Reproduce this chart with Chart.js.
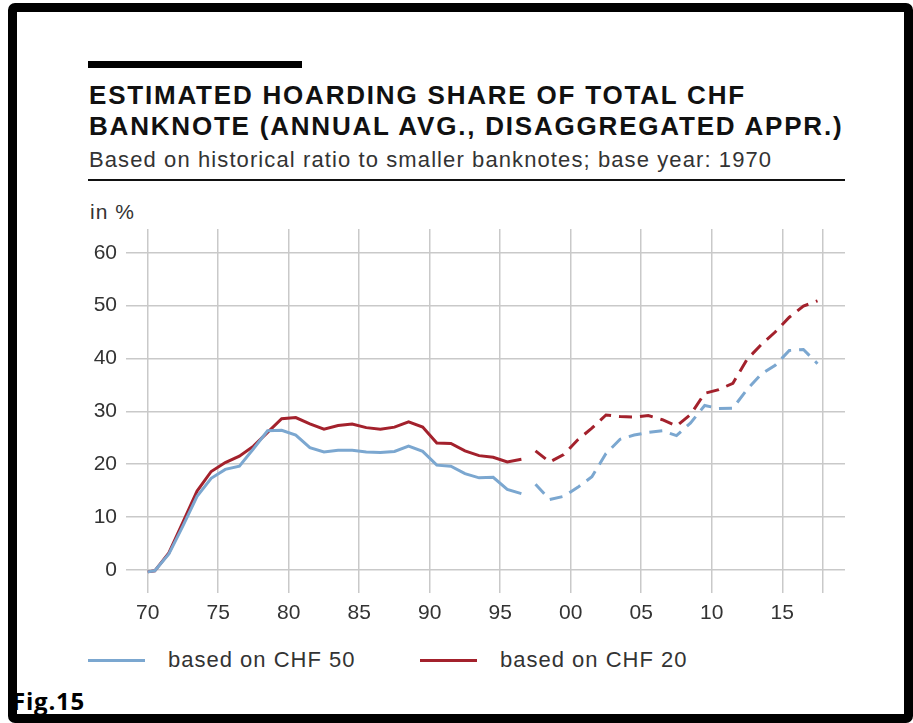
<!DOCTYPE html>
<html>
<head>
<meta charset="utf-8">
<script src="https://cdn.jsdelivr.net/npm/chart.js@4"></script>
<style>
  body { margin: 0; background: #fff; width: 913px; height: 723px; overflow: hidden; position: relative; }
  .frame { position: absolute; left: 8px; top: 3px; width: 887px; height: 702px; border: 9px solid #000; border-radius: 7px; }
  .bar { position: absolute; left: 88px; top: 61px; width: 214px; height: 7px; background: #000; }
  .title { position: absolute; left: 89px; top: 80px; font: bold 26px "Liberation Sans", Arial, sans-serif; letter-spacing: 1.8px; line-height: 31px; color: #111; white-space: nowrap; }
  .sub { position: absolute; left: 89px; top: 149px; font: 22px "Liberation Sans", Arial, sans-serif; letter-spacing: 1.1px; line-height: 21px; color: #333; white-space: nowrap; }
  .rule { position: absolute; left: 88px; top: 179px; width: 757px; height: 2px; background: #111; }
  .unit { position: absolute; left: 90px; top: 202px; font: 21px "Liberation Sans", Arial, sans-serif; letter-spacing: 1px; line-height: 20px; color: #333; }
  .lg { position: absolute; top: 649px; font: 22px "Liberation Sans", Arial, sans-serif; letter-spacing: 1px; line-height: 21px; color: #333; white-space: nowrap; }
  .sw { position: absolute; top: 659px; width: 57px; height: 3px; }
  .fig { position: absolute; left: 12px; top: 689px; font: bold 24px "Open Sans", sans-serif; letter-spacing: 0.8px; line-height: 23px; color: #000; }
  canvas { position: absolute; left: 0; top: 200px; }
</style>
</head>
<body>
<div class="frame"></div>
<div class="bar"></div>
<div class="title">ESTIMATED HOARDING SHARE OF TOTAL CHF<br>BANKNOTE (ANNUAL AVG., DISAGGREGATED APPR.)</div>
<div class="sub">Based on historical ratio to smaller banknotes; base year: 1970</div>
<div class="rule"></div>
<div class="unit">in %</div>
<canvas id="hoard" width="913" height="440"></canvas>
<div class="sw" style="left:88px;background:#7ba7d0"></div>
<div class="lg" style="left:168px">based on CHF 50</div>
<div class="sw" style="left:420px;background:#a3212c"></div>
<div class="lg" style="left:500px">based on CHF 20</div>
<div class="fig">Fig.15</div>
<script>
// stima quota tesaurizzata, punti a metà anno
var years = [1970, 1970.5, 1971.5, 1972.5, 1973.5, 1974.5, 1975.5, 1976.5, 1977.5, 1978.5,
    1979.5, 1980.5, 1981.5, 1982.5, 1983.5, 1984.5, 1985.5, 1986.5, 1987.5, 1988.5,
    1989.5, 1990.5, 1991.5, 1992.5, 1993.5, 1994.5, 1995.5, 1996.5, 1997.5, 1998.5,
    1999.5, 2000.5, 2001.5, 2002.5, 2003.5, 2004.5, 2005.5, 2006.5, 2007.5, 2008.5,
    2009.5, 2010.5, 2011.5, 2012.5, 2013.5, 2014.5, 2015.5, 2016.5, 2017.5];

var chf50 = [-0.4, -0.2, 3.0, 8.3, 13.9, 17.3, 19.0, 19.6, 22.9, 26.3,
    26.4, 25.5, 23.1, 22.3, 22.6, 22.6, 22.3, 22.2, 22.4, 23.4,
    22.4, 19.8, 19.6, 18.2, 17.4, 17.5, 15.2, 14.4, 16.2, 13.3,
    13.9, 15.6, 17.6, 22.0, 24.7, 25.5, 26.0, 26.3, 25.4, 27.8,
    31.1, 30.5, 30.6, 34.1, 37.0, 38.7, 41.5, 41.7, 39.0];

var chf20 = [-0.4, -0.2, 3.2, 9.0, 14.9, 18.6, 20.3, 21.5, 23.4, 26.0,
    28.6, 28.8, 27.6, 26.6, 27.3, 27.6, 26.9, 26.6, 27.0, 28.0,
    27.0, 24.0, 23.9, 22.5, 21.6, 21.3, 20.4, 20.9, 22.5, 20.4,
    21.8, 24.6, 26.8, 29.3, 29.0, 28.9, 29.2, 28.4, 27.2, 29.4,
    33.4, 34.1, 35.3, 39.8, 42.6, 45.0, 47.8, 49.9, 50.9];

var xTicks = [1970, 1975, 1980, 1985, 1990, 1995, 2000, 2005, 2010, 2015, 2017.9];
var xLabels = ['70', '75', '80', '85', '90', '95', '00', '05', '10', '15', ''];
var yTicks = [0, 10, 20, 30, 40, 50, 60];

var gapFrom = 1996.5;   // nessuna linea tra 1996 e 1997
var dashFrom = 1997.5;  // da qui tratteggiato

function pts(vals) {
    return years.map(function (y, i) { return { x: y, y: vals[i] }; });
}

function seg(color) {
    return {
        borderColor: function (ctx) {
            return ctx.p0.parsed.x === gapFrom ? 'rgba(0,0,0,0)' : color;
        },
        borderDash: function (ctx) {
            return ctx.p0.parsed.x >= dashFrom ? [13, 8] : [];
        }
    };
}

new Chart(document.getElementById('hoard'), {
    type: 'line',
    data: {
        datasets: [{
            label: 'based on CHF 50',
            data: pts(chf50),
            borderColor: '#7ba7d0',
            borderWidth: 3,
            pointRadius: 0,
            tension: 0,
            segment: seg('#7ba7d0')
        }, {
            label: 'based on CHF 20',
            data: pts(chf20),
            borderColor: '#a3212c',
            borderWidth: 3,
            pointRadius: 0,
            tension: 0,
            segment: seg('#a3212c')
        }]
    },
    options: {
        responsive: false,
        animation: false,
        layout: { padding: { left: 0, right: 68, top: 29, bottom: 0 } },
        plugins: {
            legend: { display: false },
            tooltip: { enabled: false }
        },
        scales: {
            x: {
                type: 'linear',
                min: 1968.46,
                max: 2019.45,
                afterBuildTicks: function (s) {
                    s.ticks = xTicks.map(function (v) { return { value: v }; });
                },
                afterFit: function (s) { s.height = 47; },
                grid: { color: '#c9c9c9', lineWidth: 1.5, drawTicks: false },
                border: { display: false },
                ticks: {
                    padding: 8,
                    maxRotation: 0,
                    autoSkip: false,
                    color: '#333',
                    font: { family: 'Liberation Sans', size: 21 },
                    callback: function (v, i) { return xLabels[i]; }
                }
            },
            y: {
                min: -4.4,
                max: 64.5,
                afterBuildTicks: function (s) {
                    s.ticks = yTicks.map(function (v) { return { value: v }; });
                },
                afterFit: function (s) { s.width = 126; },
                grid: { color: '#c9c9c9', lineWidth: 1.5, drawTicks: false },
                border: { display: false },
                ticks: {
                    padding: 9,
                    color: '#333',
                    font: { family: 'Liberation Sans', size: 21 }
                }
            }
        }
    }
});
</script>
</body>
</html>
